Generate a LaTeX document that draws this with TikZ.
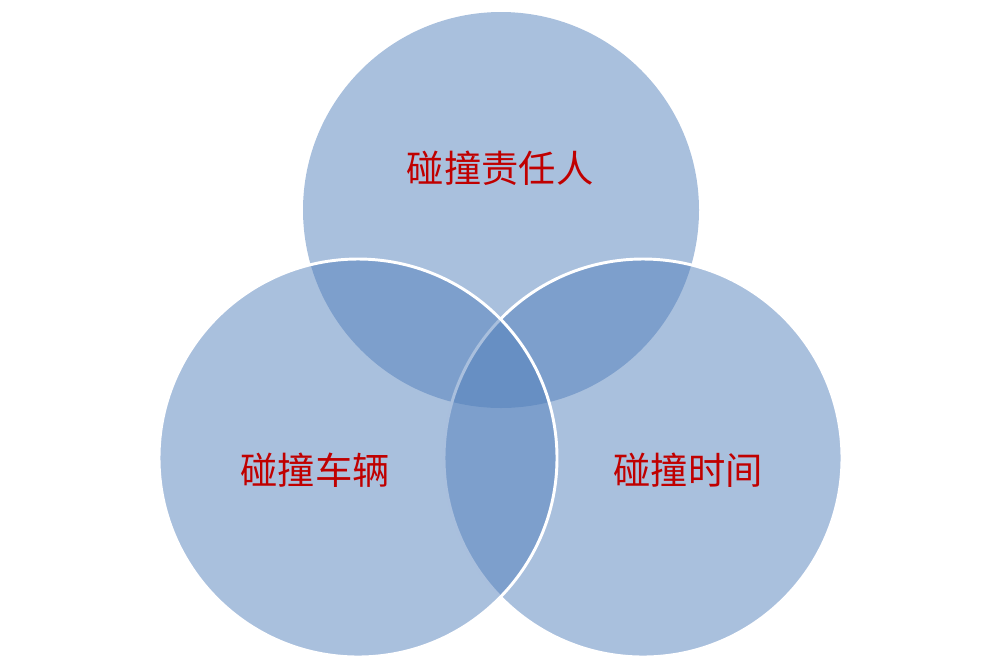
\documentclass[tikz,border=0pt]{standalone}
\usepackage{fontspec}
\newfontfamily\cjk{Noto Sans CJK SC}
\begin{document}
\begin{tikzpicture}[x=0.75pt,y=-0.75pt,
  circ/.style={fill={rgb,255:red,80;green,126;blue,186},fill opacity=0.49},
  lab/.style={text={rgb,255:red,192;green,0;blue,0},font=\cjk\fontsize{28}{30}\selectfont}]
\useasboundingbox (0,0) rectangle (1002,669);
\fill[circ] (501,210) circle (198);
\fill[circ] (643,458) circle (199);
\draw[white,line width=2.2pt] (643,458) circle (199);
\fill[circ] (358,458) circle (199);
\draw[white,line width=2.2pt] (358,458) circle (199);
\node[lab] (a) at (500,168) {碰撞责任人};
\node[lab] (b) at (315,470) {碰撞车辆};
\node[lab] (c) at (688,470) {碰撞时间};
\end{tikzpicture}
\end{document}
